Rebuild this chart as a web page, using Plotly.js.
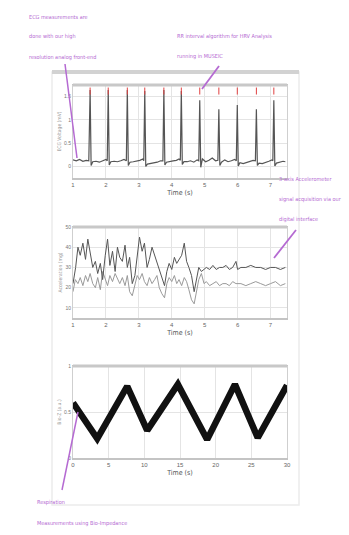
<!DOCTYPE html>
<html>
<head>
<meta charset="utf-8">
<script src="https://cdn.plot.ly/plotly-3.0.1.min.js"></script>
<style>html,body{margin:0;padding:0;background:#fff;}#chart{width:349px;height:535px;}</style>
</head>
<body>
<div id="chart"></div>
<script>
// ECG (top panel)
const ecgT = [1.00,1.10,1.20,1.30,1.40,1.48,1.52,1.55,1.60,1.70,1.80,1.90,2.00,2.04,2.07,2.10,2.15,2.25,2.35,2.45,2.55,2.62,2.65,2.68,2.73,2.83,2.93,3.03,3.12,3.15,3.18,3.21,3.26,3.36,3.46,3.56,3.66,3.73,3.76,3.79,3.84,3.94,4.04,4.14,4.22,4.26,4.29,4.32,4.37,4.47,4.57,4.67,4.77,4.82,4.85,4.88,4.93,5.03,5.13,5.23,5.33,5.40,5.43,5.46,5.51,5.61,5.71,5.81,5.91,5.96,5.99,6.02,6.07,6.17,6.27,6.37,6.47,6.54,6.57,6.60,6.65,6.75,6.85,6.95,7.04,7.07,7.10,7.13,7.18,7.28,7.38,7.45];
const ecgV = [0.14,0.12,0.15,0.11,0.13,0.12,1.64,0.02,0.10,0.11,0.09,0.12,0.15,0.12,1.64,0.03,0.10,0.11,0.10,0.12,0.15,0.12,1.64,0.02,0.09,0.10,0.11,0.13,0.16,0.12,1.62,0.00,0.05,0.06,0.07,0.09,0.12,0.12,1.64,0.03,0.09,0.11,0.12,0.13,0.16,0.13,1.62,0.04,0.10,0.10,0.12,0.09,0.14,0.12,1.42,-0.02,0.16,0.10,0.13,0.18,0.12,0.13,1.23,0.02,0.09,0.14,0.10,0.12,0.15,0.12,1.32,0.01,0.08,0.06,0.08,0.10,0.13,0.12,1.23,0.02,0.07,0.06,0.08,0.11,0.14,0.12,1.42,0.01,0.07,0.09,0.11,0.10];
// R-peak detections (red markers)
const rPeakT = [1.52,2.07,2.65,3.18,3.76,4.29,4.85,5.43,5.99,6.57,7.10];
const rPeakMark = [1.62,1.62,1.62,1.62,1.62,1.62,1.62,1.62,1.62,1.62,1.62];

// Accelerometer (middle panel)
const accT1 = [1.00,1.08,1.15,1.22,1.30,1.38,1.45,1.52,1.60,1.68,1.75,1.83,1.90,1.98,2.05,2.12,2.20,2.28,2.35,2.42,2.50,2.58,2.65,2.72,2.80,2.88,2.95,3.02,3.10,3.17,3.25,3.32,3.40,3.48,3.55,3.62,3.70,3.78,3.85,3.92,4.00,4.08,4.15,4.22,4.30,4.38,4.45,4.52,4.60,4.68,4.75,4.82,4.90,4.98,5.05,5.15,5.25,5.35,5.45,5.55,5.65,5.75,5.85,5.95,6.00,6.10,6.25,6.40,6.55,6.70,6.85,7.00,7.15,7.30,7.45];
const accV1 = [22,30,40,36,42,34,44,37,30,33,27,32,24,36,44,31,38,28,40,35,33,41,30,35,22,26,36,45,38,42,30,34,40,36,33,30,25,21,28,32,29,35,32,34,36,42,33,30,26,18,24,30,28,29,30,29,31,29,30,30,31,29,30,33,29,30,30,31,30,30,29,30,30,29,30];
const accT2 = [1.00,1.07,1.15,1.22,1.30,1.38,1.45,1.52,1.60,1.68,1.75,1.83,1.90,1.98,2.05,2.12,2.20,2.28,2.35,2.42,2.50,2.58,2.65,2.72,2.80,2.88,2.95,3.02,3.10,3.17,3.25,3.32,3.40,3.48,3.55,3.62,3.70,3.78,3.85,3.92,4.00,4.08,4.15,4.22,4.30,4.38,4.45,4.52,4.60,4.68,4.75,4.82,4.90,4.98,5.05,5.15,5.25,5.35,5.45,5.55,5.65,5.75,5.85,5.95,6.10,6.25,6.40,6.55,6.70,6.85,7.00,7.15,7.30,7.45];
const accV2 = [18,24,22,25,21,26,23,27,22,20,25,19,28,24,21,26,23,27,24,22,25,21,26,18,16,22,26,24,27,23,21,25,22,24,26,20,17,15,22,25,23,26,22,24,21,25,23,19,14,12,18,24,27,22,23,21,22,23,21,22,22,21,23,22,22,21,22,23,22,21,22,23,21,22];

// Respiration (bottom panel)
const respT = [0,3.4,7.6,10.4,14.7,18.8,22.7,25.9,30];
const respV = [0.60,0.21,0.78,0.30,0.80,0.20,0.80,0.22,0.79];

// tick labels
const ecgTicks = [0,0.5,1,1.5];
const accTicks = [10,20,30,40,50];
const respTicks = [0,0.5,1];
const timeTicks1 = [1,2,3,4,5,6,7];
const timeTicks3 = [0,5,10,15,20,25,30];

const W = 349, H = 535;
const px = x => x / W;
const py = y => 1 - y / H;
const purple = '#b56ad2';
const narrow = 'Liberation Sans Narrow, DejaVu Sans Condensed, Arial Narrow, sans-serif';

const traces = [
  {x: ecgT, y: ecgV, xaxis: 'x', yaxis: 'y', mode: 'lines', line: {color: '#555', width: 1.2}, hoverinfo: 'skip'},
  {x: rPeakT, y: rPeakMark, xaxis: 'x', yaxis: 'y', mode: 'markers', marker: {symbol: 'line-ns-open', size: 5, color: '#e04040', line: {color: '#e04040', width: 1}}},
  {x: accT2, y: accV2, xaxis: 'x2', yaxis: 'y2', mode: 'lines', line: {color: '#9a9a9a', width: 1}},
  {x: accT1, y: accV1, xaxis: 'x2', yaxis: 'y2', mode: 'lines', line: {color: '#555', width: 1}},
  {x: respT, y: respV, xaxis: 'x3', yaxis: 'y3', mode: 'lines', line: {color: '#111', width: 6.5}}
];

const tickFont = {family: 'Liberation Sans, sans-serif', size: 6, color: '#666'};
const xTitle = {text: 'Time (s)', font: {family: narrow, size: 7, color: '#555'}, standoff: 3};
function xax(range, ticks, anchor) {
  return {domain: [px(73), px(287)], range: range, tickvals: ticks, anchor: anchor,
    showgrid: true, gridcolor: '#e4e4e4', zeroline: false, showline: true, mirror: true,
    linecolor: '#c4c4c4', linewidth: 1.5, ticks: '', tickfont: tickFont, title: xTitle};
}
function yax(dom, range, ticks, anchor, title) {
  return {domain: dom, range: range, tickvals: ticks, anchor: anchor,
    showgrid: true, gridcolor: '#e4e4e4', zeroline: false, showline: true, mirror: true,
    linecolor: '#cfcfcf', linewidth: 1, ticks: '', tickfont: {family: 'Liberation Sans, sans-serif', size: 5, color: '#777'},
    title: {text: title, font: {family: narrow, size: 5, color: '#999'}, standoff: 2}};
}

const layout = {
  width: W, height: H, autosize: false, showlegend: false,
  margin: {l: 0, r: 0, t: 0, b: 0},
  paper_bgcolor: '#fff', plot_bgcolor: '#fff',
  xaxis: xax([1, 7.5], timeTicks1, 'y'),
  yaxis: yax([py(178), py(85)], [-0.25, 1.75], ecgTicks, 'x', 'ECG Voltage (mV)'),
  xaxis2: xax([1, 7.5], timeTicks1, 'y2'),
  yaxis2: yax([py(318), py(227)], [5, 50], accTicks, 'x2', 'Acceleration (mg)'),
  xaxis3: xax([0, 30], timeTicks3, 'y3'),
  yaxis3: yax([py(458), py(366)], [0, 1], respTicks, 'x3', 'Bio-Z (a.u.)'),
  shapes: [
    {type: 'rect', xref: 'paper', yref: 'paper', x0: px(52), x1: px(299), y0: py(505), y1: py(72), line: {color: '#ececec', width: 1.5}},
    {type: 'line', xref: 'paper', yref: 'paper', x0: px(52), x1: px(299), y0: py(72), y1: py(72), line: {color: '#d2d2d2', width: 4}},
    {type: 'line', xref: 'paper', yref: 'paper', x0: px(73), x1: px(287), y0: py(85), y1: py(85), line: {color: '#c8c8c8', width: 3}},
    {type: 'line', xref: 'paper', yref: 'paper', x0: px(73), x1: px(287), y0: py(227), y1: py(227), line: {color: '#c8c8c8', width: 3}},
    {type: 'line', xref: 'paper', yref: 'paper', x0: px(73), x1: px(287), y0: py(366), y1: py(366), line: {color: '#c8c8c8', width: 3}},
    {type: 'line', xref: 'paper', yref: 'paper', x0: px(65), y0: py(64), x1: px(77), y1: py(158), line: {color: purple, width: 1.5}},
    {type: 'line', xref: 'paper', yref: 'paper', x0: px(219), y0: py(66), x1: px(202), y1: py(89), line: {color: purple, width: 1.8}},
    {type: 'line', xref: 'paper', yref: 'paper', x0: px(296), y0: py(230), x1: px(274), y1: py(258), line: {color: purple, width: 1.8}},
    {type: 'line', xref: 'paper', yref: 'paper', x0: px(62), y0: py(490), x1: px(78), y1: py(412), line: {color: purple, width: 1.5}}
  ],
  annotations: []
};

const notes = [
  ['ECG measurements are', 27, 17],
  ['done with our high', 27, 37],
  ['resolution analog front-end', 27, 58],
  ['RR interval algorithm for HRV Analysis', 175, 36],
  ['running in MUSEIC', 175, 57],
  ['3-axis Accelerometer', 277, 179],
  ['signal acquisition via our', 277, 199],
  ['digital interface', 277, 219],
  ['Respiration', 35, 502],
  ['Measurements using Bio-Impedance', 35, 523]
];
notes.forEach(n => layout.annotations.push({
  text: n[0], xref: 'paper', yref: 'paper', x: px(n[1]), y: py(n[2]),
  xanchor: 'left', yanchor: 'middle', showarrow: false,
  font: {family: narrow, size: 5.5, color: purple}
}));

Plotly.newPlot('chart', traces, layout, {staticPlot: true, displayModeBar: false});
</script>
</body>
</html>
